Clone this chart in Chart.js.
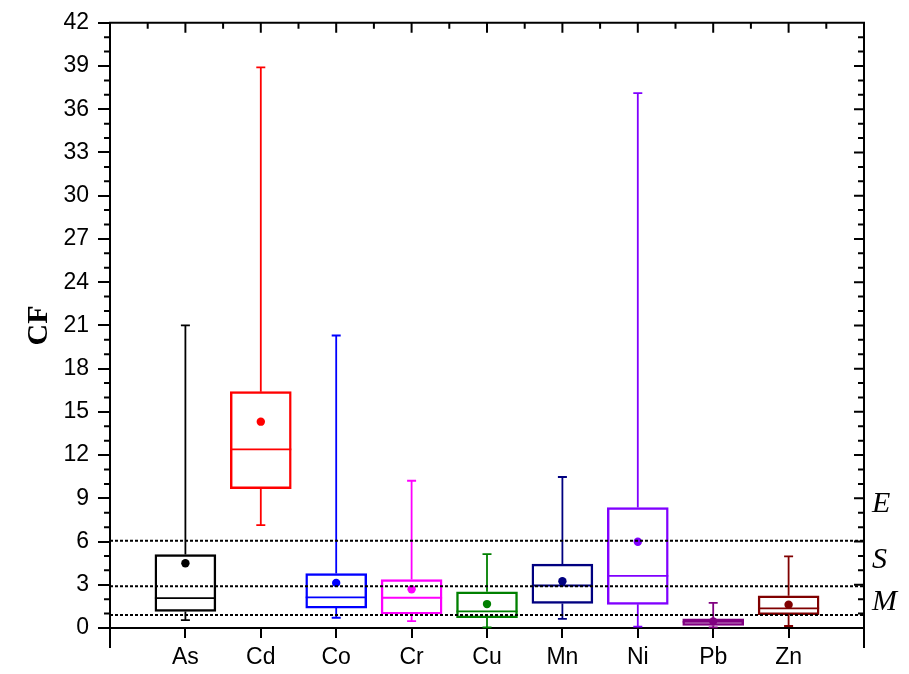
<!DOCTYPE html>
<html><head><meta charset="utf-8">
<script src="https://cdn.jsdelivr.net/npm/chart.js@4/dist/chart.umd.min.js"></script>
<style>html,body{margin:0;padding:0;background:#fff}</style>
</head><body>
<canvas id="c" width="909" height="674"></canvas>
<script>
// ---- data ----
const categories = ['As','Cd','Co','Cr','Cu','Mn','Ni','Pb','Zn'];
const whiskerMin = [0.55, 7.14, 0.71, 0.48, 0.05, 0.64, 0.09, 0.05, 0.14];
const q1         = [1.15, 9.67, 1.38, 0.97, 0.71, 1.70, 1.64, 0.18, 0.92];
const median     = [2.07, 12.39, 2.12, 2.10, 1.15, 2.95, 3.62, 0.43, 1.36];
const q3         = [5.10, 16.40, 3.78, 3.36, 2.51, 4.44, 8.36, 0.64, 2.23];
const whiskerMax = [21.0, 38.9, 20.3, 10.22, 5.13, 10.48, 37.12, 1.75, 4.97];
const mean       = [4.49, 14.32, 3.13, 2.69, 1.66, 3.25, 5.99, 0.46, 1.61];
const colors = ['#000000','#FF0000','#0000FF','#FF00FF','#008000','#000080','#8000FF','#800080','#800000'];
const yMin = 0, yMax = 42, yStep = 3;
const refValues = [6.05, 2.9, 0.9];
const refLabels = ['E','S','M'];
const refLabelAt = [8.6, 4.7, 1.8];

// category axis with empty slots at both ends (positions 0..10)
const labels = ['', ...categories, ''];
const pad = arr => [null, ...arr, null];
const boxData = pad(categories.map((c,i)=>[q1[i], q3[i]]));

const boxPlugin = {
  id: 'boxParts',
  beforeDatasetsDraw(chart){
    const {ctx, scales:{x,y}} = chart;
    const meta = chart.getDatasetMeta(0);
    ctx.save();
    ctx.lineWidth = 1.8;
    categories.forEach((c,i)=>{
      const px = x.getPixelForValue(i+1);
      const bar = meta.data[i+1];
      const half = bar.width/2;
      const cap = 4.5;
      ctx.strokeStyle = colors[i];
      ctx.beginPath();
      const yq3 = y.getPixelForValue(q3[i]), yhi = y.getPixelForValue(whiskerMax[i]);
      const yq1 = y.getPixelForValue(q1[i]), ylo = y.getPixelForValue(whiskerMin[i]);
      ctx.moveTo(px, yq3); ctx.lineTo(px, yhi);
      ctx.moveTo(px-cap, yhi); ctx.lineTo(px+cap, yhi);
      ctx.moveTo(px, yq1); ctx.lineTo(px, ylo);
      ctx.moveTo(px-cap, ylo); ctx.lineTo(px+cap, ylo);
      const ym = y.getPixelForValue(median[i]);
      ctx.moveTo(px-half, ym); ctx.lineTo(px+half, ym);
      ctx.stroke();
    });
    ctx.restore();
  },
  afterDatasetsDraw(chart){
    const {ctx, scales:{x,y}, chartArea:a} = chart;
    ctx.save();
    // reference dotted lines
    ctx.strokeStyle = '#000'; ctx.lineWidth = 2; ctx.setLineDash([3,2]);
    refValues.forEach(v=>{
      const py = y.getPixelForValue(v);
      ctx.beginPath(); ctx.moveTo(a.left, py); ctx.lineTo(a.right, py); ctx.stroke();
    });
    ctx.setLineDash([]);
    // labels E S M
    ctx.fillStyle = '#000';
    ctx.font = 'italic 30px "Liberation Serif", "Times New Roman", serif';
    ctx.textAlign = 'left'; ctx.textBaseline = 'middle';
    refLabels.forEach((t,i)=>{
      ctx.fillText(t, a.right + 8, y.getPixelForValue(refLabelAt[i]));
    });
    ctx.restore();
  },
  afterDraw(chart){
    const {ctx, scales:{x,y}, chartArea:a} = chart;
    ctx.save();
    ctx.strokeStyle = '#000'; ctx.lineWidth = 2;
    ctx.beginPath();
    // top and right axis lines
    ctx.moveTo(a.left-1, a.top); ctx.lineTo(a.right+1, a.top);
    ctx.moveTo(a.right, a.top); ctx.lineTo(a.right, a.bottom+20);
    // left axis extension below
    ctx.moveTo(a.left, a.bottom); ctx.lineTo(a.left, a.bottom+20);
    // y minor ticks (left outward, right inward) and right majors
    for (let v = yMin; v <= yMax; v += 1) {
      const py = y.getPixelForValue(v);
      const major = (v % yStep === 0);
      if (!major) { ctx.moveTo(a.left, py); ctx.lineTo(a.left-6, py); }
      ctx.moveTo(a.right, py); ctx.lineTo(a.right-(major?10:6), py);
    }
    // top ticks inward: majors at category positions, minors halfway
    for (let k = 0; k <= labels.length-1; k += 0.5) {
      const px = x.getPixelForValue(k);
      const major = Number.isInteger(k);
      ctx.moveTo(px, a.top); ctx.lineTo(px, a.top + (major?10:6));
    }
    ctx.stroke();
    ctx.restore();
  }
};

new Chart(document.getElementById('c'), {
  type: 'bar',
  data: {
    labels: labels,
    datasets: [
      {
        type: 'bar',
        data: boxData,
        backgroundColor: 'rgba(0,0,0,0)',
        borderColor: pad(colors),
        borderWidth: 1.8,
        borderSkipped: false,
        barThickness: 61,
        order: 2
      },
      {
        type: 'line',
        data: pad(mean),
        showLine: false,
        pointRadius: 4.2,
        pointBorderWidth: 0,
        pointBackgroundColor: pad(colors),
        pointBorderColor: pad(colors),
        order: 1
      }
    ]
  },
  options: {
    responsive: false,
    animation: false,
    devicePixelRatio: 1,
    layout: { padding: { top: 20, right: 45, bottom: 0, left: 0 } },
    plugins: { legend: { display: false }, tooltip: { enabled: false } },
    scales: {
      x: {
        type: 'category',
        offset: false,
        grid: { offset: false, drawOnChartArea: false, drawTicks: true, tickLength: 10, color: '#000', lineWidth: 2 },
        border: { display: true, color: '#000', width: 2 },
        ticks: { autoSkip: false, maxRotation: 0, padding: 6, color: '#000',
                 font: { family: '"Liberation Sans", Arial, sans-serif', size: 23 } },
        afterFit: s => { s.height = 46; }
      },
      y: {
        type: 'linear',
        min: yMin, max: yMax,
        grid: { drawOnChartArea: false, drawTicks: true, tickLength: 12, color: '#000', lineWidth: 2 },
        border: { display: true, color: '#000', width: 2 },
        ticks: { stepSize: yStep, padding: 9, color: '#000',
                 font: { family: '"Liberation Sans", Arial, sans-serif', size: 23 } },
        title: { display: true, text: 'CF', color: '#000', padding: { top: 21, bottom: 0 },
                 font: { family: '"Liberation Serif", "Times New Roman", serif', size: 30, weight: 'bold' } },
        afterFit: s => { s.width = 110; }
      }
    }
  },
  plugins: [boxPlugin]
});
</script>
</body></html>
